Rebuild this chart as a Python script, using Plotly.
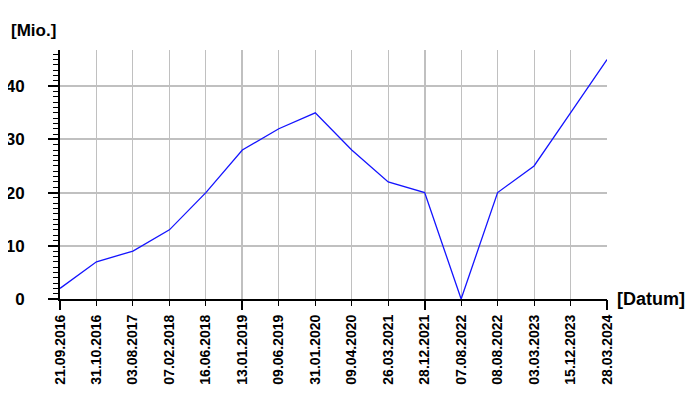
import plotly.graph_objects as go

dates = ["21.09.2016", "31.10.2016", "03.08.2017", "07.02.2018", "16.06.2018",
         "13.01.2019", "09.06.2019", "31.01.2020", "09.04.2020", "26.03.2021",
         "28.12.2021", "07.08.2022", "08.08.2022", "03.03.2023", "15.12.2023",
         "28.03.2024"]
values = [2, 7, 9, 13, 20, 28, 32, 35, 28, 22, 20, 0, 20, 25, 35, 45]
y_ticks = [0, 10, 20, 30, 40]

idx = list(range(len(dates)))
major_idx = idx[::5]

FONT = "Liberation Sans, Arial, sans-serif"

fig = go.Figure()
fig.add_trace(go.Scatter(x=idx, y=values, mode="lines",
                         line=dict(color="#1414ff", width=1.3),
                         showlegend=False, hoverinfo="skip"))
fig.add_trace(go.Scatter(x=[None], y=[None], xaxis="x2", showlegend=False,
                         hoverinfo="skip"))

# the page body has an 8px default margin, so the figure is sized/offset to compensate
fig.update_layout(
    width=692, height=392,
    margin=dict(l=52, r=93, t=42, b=101, autoexpand=False),
    paper_bgcolor="white", plot_bgcolor="white",
    font=dict(family=FONT, size=17, color="black", weight="bold"),
    xaxis=dict(
        range=[0, len(dates) - 1], tickmode="array", tickvals=idx, ticktext=dates,
        tickangle=-90, ticks="outside", ticklen=5, tickwidth=1, tickcolor="black",
        showgrid=True, gridcolor="#c0c0c0", gridwidth=1,
        showline=True, linecolor="black", linewidth=2,
        zeroline=False, tickfont=dict(size=14, weight="bold"), fixedrange=True,
        automargin=False, ticklabelstandoff=3,
    ),
    xaxis2=dict(
        overlaying="x", anchor="y", side="bottom",
        range=[0, len(dates) - 1], tickmode="array", tickvals=major_idx,
        showticklabels=False, ticks="outside", ticklen=10, tickwidth=2,
        tickcolor="black", showgrid=True, gridcolor="#c0c0c0", gridwidth=2,
        showline=False, zeroline=False, fixedrange=True, automargin=False,
    ),
    yaxis=dict(
        range=[0, 46.8], tickmode="array", tickvals=y_ticks,
        ticks="outside", ticklen=10, tickwidth=2, tickcolor="black",
        minor=dict(dtick=1, tick0=0, ticks="outside", ticklen=5, tickwidth=1,
                   tickcolor="black", showgrid=False),
        showgrid=True, gridcolor="#c0c0c0", gridwidth=2,
        showline=True, linecolor="black", linewidth=2,
        zeroline=False, ticklabelstandoff=20, fixedrange=True,
        tickfont=dict(size=17, weight="bold"), automargin=False,
    ),
    annotations=[
        dict(text="[Mio.]", xref="paper", yref="paper", x=0, y=1,
             xanchor="left", yanchor="middle", xshift=-51, yshift=20,
             showarrow=False, font=dict(size=17, weight="bold")),
        dict(text="[Datum]", xref="paper", yref="paper", x=1, y=0,
             xanchor="left", yanchor="middle", xshift=8, yshift=0,
             showarrow=False, font=dict(size=18, weight="bold")),
    ],
    hovermode=False,
)

fig.write_html("out.html", config={"displayModeBar": False})
